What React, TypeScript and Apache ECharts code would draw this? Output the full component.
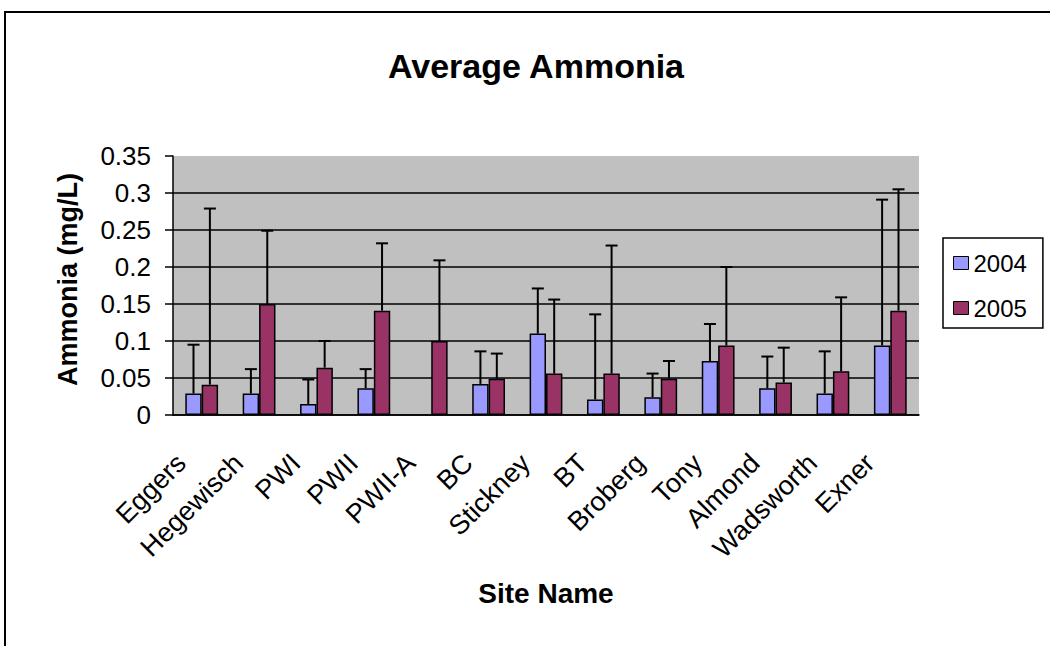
import React, { useEffect, useRef } from "react";
import * as echarts from "echarts";

const FONT = "'Liberation Sans', Arial, sans-serif";

const sites = ["Eggers", "Hegewisch", "PWI", "PWII", "PWII-A", "BC", "Stickney", "BT", "Broberg", "Tony", "Almond", "Wadsworth", "Exner"];
const avg2004 = [0.029, 0.029, 0.015, 0.036, null, 0.042, 0.11, 0.021, 0.024, 0.073, 0.036, 0.029, 0.094];
const avg2005 = [0.041, 0.15, 0.064, 0.141, 0.1, 0.049, 0.056, 0.056, 0.049, 0.094, 0.044, 0.059, 0.141];
const err2004 = [0.066, 0.033, 0.033, 0.026, null, 0.044, 0.061, 0.115, 0.032, 0.05, 0.043, 0.057, 0.197];
const err2005 = [0.238, 0.099, 0.036, 0.091, 0.109, 0.034, 0.1, 0.173, 0.024, 0.106, 0.047, 0.1, 0.164];
const yTicks = { min: 0, max: 0.35, interval: 0.05 };

const CAT_GAP = 0.4286;

function errData(avg: (number | null)[], err: (number | null)[], s: number) {
  const out: any[] = [];
  avg.forEach((v, i) => {
    const e = err[i];
    if (v != null && e != null) out.push([i, v, v + e, s]);
  });
  return out;
}

function renderErr(params: any, api: any) {
  const idx = api.value(0);
  const v = api.value(1);
  const top = api.value(2);
  const s = api.value(3);
  const cx = api.coord([idx, 0])[0];
  const band = api.size([1, 0])[0];
  const barW = (band * (1 - CAT_GAP)) / 2;
  const x = cx + (s === 0 ? -barW / 2 : barW / 2);
  const yb = api.coord([idx, v])[1];
  const yt = api.coord([idx, top])[1];
  const st = { stroke: "#000", lineWidth: 2 };
  return {
    type: "group",
    children: [
      { type: "line", shape: { x1: x, y1: yb, x2: x, y2: yt }, style: st },
      { type: "line", shape: { x1: x - 6, y1: yt, x2: x + 6, y2: yt }, style: st },
    ],
  };
}

export default function App() {
  const ref = useRef<HTMLDivElement>(null);
  useEffect(() => {
    if (!ref.current) return;
    const chart = echarts.init(ref.current, null, { renderer: "svg" });
    const option: any = {
      animation: false,
      backgroundColor: "#fff",
      textStyle: { fontFamily: FONT },
      title: {
        text: "Average Ammonia",
        left: 388,
        top: 49,
        padding: 0,
        textStyle: { fontSize: 34, fontWeight: "bold", color: "#000", fontFamily: FONT },
      },
      legend: {
        orient: "vertical",
        left: 943,
        top: 238,
        data: ["2004", "2005"],
        icon: "rect",
        itemWidth: 15,
        itemHeight: 13,
        itemGap: 21,
        padding: [13, 16, 8, 10],
        borderColor: "#000",
        borderWidth: 1.5,
        itemStyle: { borderColor: "#000", borderWidth: 1 },
        textStyle: { fontSize: 24, color: "#000", lineHeight: 24, fontFamily: FONT },
      },
      grid: {
        left: 173,
        right: 131,
        top: 156,
        bottom: 231,
        show: true,
        backgroundColor: "#C0C0C0",
        borderWidth: 0,
      },
      xAxis: {
        type: "category",
        data: sites,
        name: "Site Name",
        nameLocation: "middle",
        nameGap: 164,
        nameTextStyle: { fontSize: 28, fontWeight: "bold", color: "#000", fontFamily: FONT },
        axisLine: { lineStyle: { color: "#000", width: 1.5 } },
        axisTick: { length: 9, lineStyle: { color: "#000", width: 1.5 } },
        axisLabel: { rotate: 45, fontSize: 27, color: "#000", margin: 23, padding: [0, 29, 0, 0], fontFamily: FONT },
      },
      yAxis: {
        type: "value",
        min: yTicks.min,
        max: yTicks.max,
        interval: yTicks.interval,
        name: "Ammonia (mg/L)",
        nameLocation: "middle",
        nameGap: 92,
        nameTextStyle: { fontSize: 27, fontWeight: "bold", color: "#000", fontFamily: FONT, padding: [0, 0, 0, 12] },
        axisLine: { show: true, lineStyle: { color: "#000", width: 1.5 } },
        axisTick: { show: true, length: 8, lineStyle: { color: "#000", width: 1.5 } },
        axisLabel: { fontSize: 26, color: "#000", margin: 22, fontFamily: FONT },
        splitLine: {
          show: true,
          lineStyle: { color: ["#000", "#000", "#000", "#000", "#000", "#000", "#000", "rgba(0,0,0,0)"], width: 1.5 },
        },
      },
      series: [
        {
          name: "2004",
          type: "bar",
          data: avg2004,
          barGap: "0%",
          barCategoryGap: "42.86%",
          itemStyle: { color: "#9999FF", borderColor: "#000", borderWidth: 1.5 },
        },
        {
          name: "2005",
          type: "bar",
          data: avg2005,
          barGap: "0%",
          barCategoryGap: "42.86%",
          itemStyle: { color: "#993366", borderColor: "#000", borderWidth: 1.5 },
        },
        {
          type: "custom",
          name: "err2004",
          data: errData(avg2004, err2004, 0),
          renderItem: renderErr,
          z: 10,
          encode: { x: 0, y: [1, 2] },
        },
        {
          type: "custom",
          name: "err2005",
          data: errData(avg2005, err2005, 1),
          renderItem: renderErr,
          z: 10,
          encode: { x: 0, y: [1, 2] },
        },
      ],
      graphic: [
        {
          type: "rect",
          shape: { x: 5, y: 12, width: 1200, height: 800 },
          style: { fill: "none", stroke: "#000", lineWidth: 2 },
          silent: true,
          z: 100,
        },
      ],
    };
    chart.setOption(option);
    return () => chart.dispose();
  }, []);
  return <div ref={ref} style={{ position: "fixed", left: 0, top: 0, width: 1050, height: 646 }} />;
}
